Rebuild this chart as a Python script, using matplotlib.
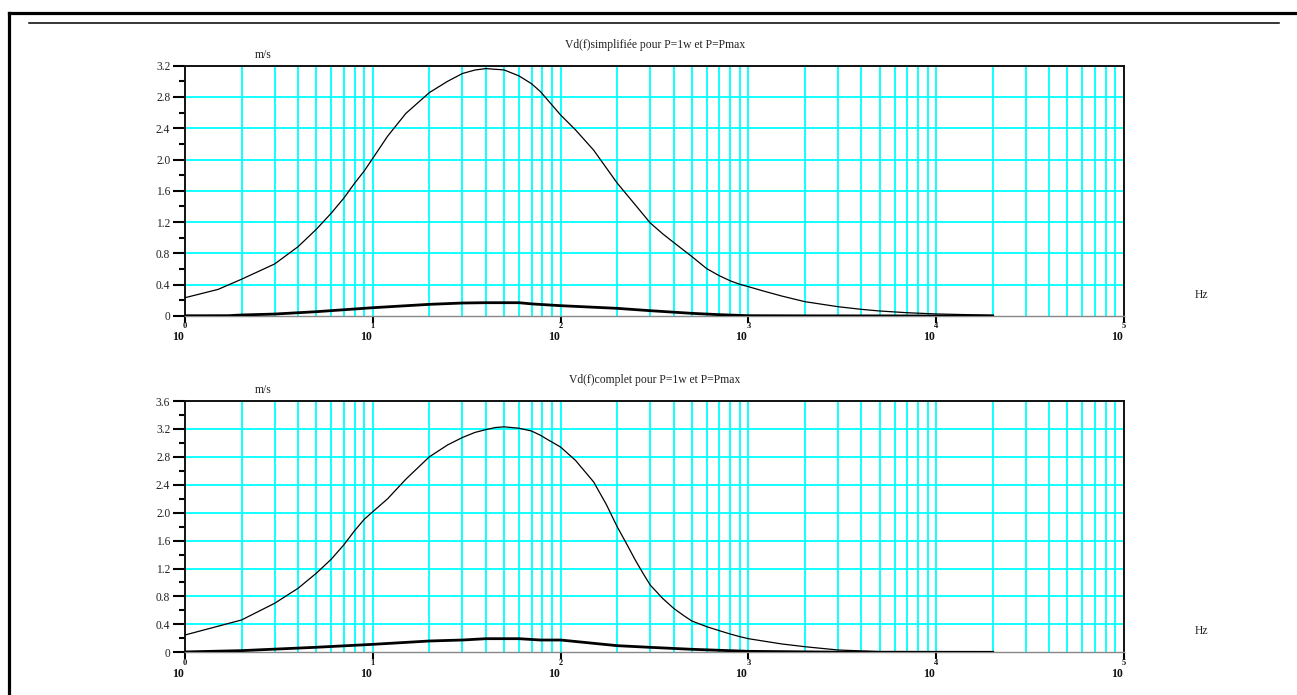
import matplotlib
matplotlib.use('Agg')
import matplotlib.pyplot as plt
import matplotlib.transforms as mtransforms
from matplotlib.lines import Line2D
from matplotlib.ticker import MultipleLocator, LogLocator, NullFormatter

# --- donnees ---
titles = ['Vd(f)simplifiée pour P=1w et P=Pmax', 'Vd(f)complet pour P=1w et P=Pmax']
ymax = [3.2, 3.6]
decades = [0, 1, 2, 3, 4, 5]

# Vd simplifiee, P=Pmax
f_simp_max = [1, 1.5, 2, 3, 4, 5, 6, 7, 8, 9, 10, 12, 15, 20, 25, 30, 35, 40, 50, 60, 70,
              78, 100, 120, 150, 200, 250, 300, 350, 400, 500, 600, 700, 800, 900, 1000,
              1200, 1500, 2000, 3000, 4000, 5000, 7000, 10000, 20000]
v_simp_max = [0.234, 0.34, 0.47, 0.665, 0.886, 1.108, 1.313, 1.505, 1.697, 1.854, 2.016,
              2.30, 2.59, 2.856, 3.0, 3.10, 3.145, 3.163, 3.146, 3.07, 2.97, 2.87, 2.57,
              2.38, 2.12, 1.70, 1.42, 1.19, 1.05, 0.94, 0.76, 0.605, 0.515, 0.45, 0.405,
              0.375, 0.32, 0.256, 0.183, 0.119, 0.085, 0.064, 0.042, 0.026, 0.010]
# Vd simplifiee, P=1w
f_simp_1w = [1, 1.7, 2, 3, 5, 10, 20, 30, 40, 60, 70, 100, 200, 300, 500, 700, 1000,
             2000, 20000]
v_simp_1w = [0.003, 0.004, 0.013, 0.025, 0.055, 0.106, 0.149, 0.166, 0.17, 0.17, 0.155,
             0.132, 0.098, 0.068, 0.034, 0.017, 0.004, 0.002, 0.0]

# Vd complet, P=Pmax
f_comp_max = [1, 2, 3, 4, 5, 6, 7, 8, 9, 10, 12, 15, 20, 25, 30, 35, 40, 45, 50, 60, 70,
              78, 85, 100, 120, 150, 175, 200, 225, 250, 275, 300, 350, 400, 450, 500,
              600, 700, 800, 900, 1000, 1500, 2000, 3000, 5000, 10000, 20000]
v_comp_max = [0.248, 0.463, 0.702, 0.917, 1.132, 1.332, 1.537, 1.742, 1.905, 2.014, 2.2,
              2.48, 2.80, 2.97, 3.077, 3.15, 3.19, 3.22, 3.23, 3.21, 3.17, 3.11, 3.05,
              2.94, 2.75, 2.44, 2.12, 1.80, 1.55, 1.32, 1.13, 0.964, 0.77, 0.63, 0.53,
              0.448, 0.367, 0.31, 0.262, 0.224, 0.195, 0.12, 0.08, 0.033, 0.01, 0.004, 0.0]
# Vd complet, P=1w
f_comp_1w = [1, 2, 5, 10, 20, 30, 40, 60, 78, 100, 200, 300, 500, 1000, 3000, 20000]
v_comp_1w = [0.005, 0.024, 0.072, 0.114, 0.162, 0.176, 0.195, 0.195, 0.176, 0.176, 0.095,
             0.071, 0.043, 0.014, 0.002, 0.0]

curves = [((f_simp_max, v_simp_max), (f_simp_1w, v_simp_1w)),
          ((f_comp_max, v_comp_max), (f_comp_1w, v_comp_1w))]

plt.rcParams['font.family'] = ['Liberation Serif', 'DejaVu Serif']

W, H = 1297, 695
fig = plt.figure(figsize=(W / 100, H / 100), dpi=100)

# cadre de la page
fig.add_artist(Line2D([8.7 / W, 1.0], [1 - 12.7 / H, 1 - 12.7 / H], color='black', lw=2.3,
                      transform=fig.transFigure))
fig.add_artist(Line2D([8.7 / W, 8.7 / W], [1 - 12.7 / H, 0], color='black', lw=2.3,
                      transform=fig.transFigure))
fig.add_artist(Line2D([29 / W, 1279 / W], [1 - 23.3 / H, 1 - 23.3 / H], color='black', lw=1.1,
                      transform=fig.transFigure))

# positions des axes en pixels (gauche, haut, droite, bas)
boxes = [(185, 65.7, 1124, 316), (185, 401, 1124, 652.3)]

for i in range(2):
    l, t, r, b = boxes[i]
    ax = fig.add_axes([l / W, 1 - b / H, (r - l) / W, (b - t) / H])
    ax.set_xscale('log')
    ax.set_xlim(10 ** decades[0], 10 ** decades[-1])
    ax.set_ylim(0, ymax[i])

    # grille cyan
    yt = [k * 0.4 for k in range(1, int(round(ymax[i] / 0.4)) + 1)]
    for v in yt:
        ax.axhline(v, color='#00ffff', lw=1.3, zorder=1)
    for d in decades[:-1]:
        for m in range(2, 11):
            x = m * 10 ** d
            if x < 10 ** decades[-1]:
                ax.axvline(x, color='#00ffff', lw=1.3, zorder=1)

    (fa, va), (fb, vb) = curves[i]
    ax.plot(fa, va, color='black', lw=0.9, zorder=3)
    ax.plot(fb, vb, color='black', lw=2.0, zorder=3)

    for s in ['left', 'top', 'right']:
        ax.spines[s].set_color('#111111')
        ax.spines[s].set_linewidth(1.4)
    ax.spines['bottom'].set_color('#888888')
    ax.spines['bottom'].set_linewidth(1.0)

    # ticks y
    ax.yaxis.set_major_locator(MultipleLocator(0.4))
    ax.yaxis.set_minor_locator(MultipleLocator(0.2))
    ylabels = ['0'] + ['%.1f' % v for v in yt]
    ax.set_yticks([0] + yt)
    ax.set_yticklabels(ylabels, fontsize=8.3, color='#222222')
    ax.tick_params(axis='y', which='major', direction='out', length=8.6, width=1.5, pad=2)
    ax.tick_params(axis='y', which='minor', direction='out', length=4.3, width=1.5)

    # ticks x : decades, etiquettes facon Scilab
    ax.set_xticks([10 ** d for d in decades])
    ax.xaxis.set_minor_locator(LogLocator(subs=[]))
    ax.xaxis.set_major_formatter(NullFormatter())
    ax.tick_params(axis='x', which='major', direction='out', length=5, width=1.5)
    trans = ax.get_xaxis_transform()
    for d in decades:
        ax.text(10 ** d, 0, str(d), transform=mtransforms.offset_copy(trans, fig=fig, x=0, y=-10.5,
                units='dots'), ha='center', va='center', fontsize=6, fontweight='bold', color='#111111')
        ax.text(10 ** d, 0, '10', transform=mtransforms.offset_copy(trans, fig=fig, x=-7, y=-21.5,
                units='dots'), ha='center', va='center', fontsize=8.5, fontweight='bold', color='#111111')

    # titres et unites
    fig.text(655 / W, 1 - (t - 21) / H, titles[i], ha='center', va='center', fontsize=8.4,
             color='#222222')
    fig.text(263 / W, 1 - (t - 11) / H, 'm/s', ha='center', va='center', fontsize=8.4,
             color='#222222')
    fig.text(1202 / W, 1 - (b - 21) / H, 'Hz', ha='center', va='center', fontsize=8.4,
             color='#222222')

fig.savefig('out.png', dpi=100)
